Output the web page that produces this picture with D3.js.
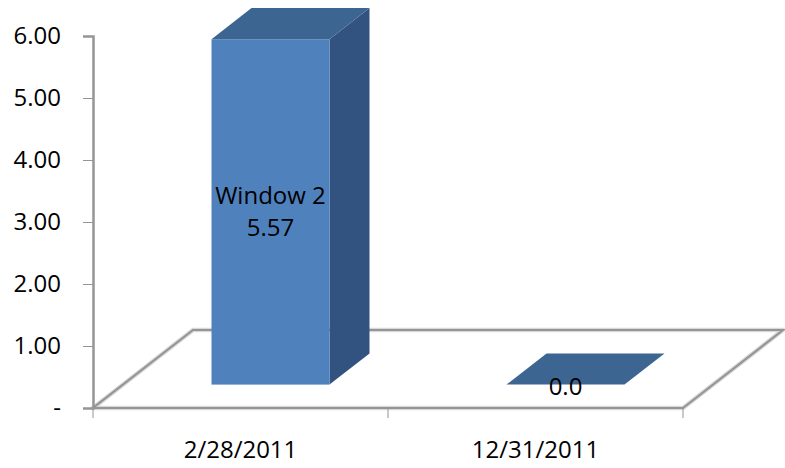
<!DOCTYPE html>
<html>
<head>
<meta charset="utf-8">
<script src="https://cdn.jsdelivr.net/npm/d3@7"></script>
<style>
  body { margin: 0; background: #fff; }
  text { font-family: 'Open Sans', sans-serif; fill: #000; }
</style>
</head>
<body>
<div id="main"></div>
<script>
const w = 785, h = 468
// data
const categories = ['2/28/2011', '12/31/2011']
const values = [5.57, 0]
const labelLines = [['Window 2', '5.57'], ['0.0']]
const yTicks = [0, 1, 2, 3, 4, 5, 6]

const padLeft = 93, padRight = 683, floorY = 408, axisTop = 36
const depthX = 100, depthY = 78   // floor depth in px
const front = 0.3, back = 0.7      // bar position in depth

const svg = d3.select('#main')
    .append('svg')
    .attr('width', w)
    .attr('height', h)

const xScale = d3.scaleBand()
    .domain(categories)
    .range([padLeft, padRight])

const yScale = d3.scaleLinear()
    .domain([0, 6])
    .range([floorY, axisTop])

const barW = xScale.bandwidth() / 2.5

// floor
const floor = [[padLeft, floorY], [padRight, floorY], [padRight + depthX, floorY - depthY], [padLeft + depthX, floorY - depthY]]
svg.append('polygon')
    .attr('points', floor.map(p => p.join(',')).join(' '))
    .attr('fill', '#fff')
    .attr('stroke', '#D9D9D9')
    .attr('stroke-width', 4.5)
    .attr('stroke-linejoin', 'round')
svg.append('polygon')
    .attr('points', floor.map(p => p.join(',')).join(' '))
    .attr('fill', 'none')
    .attr('stroke', '#959595')
    .attr('stroke-width', 2.2)

// y axis
const yAxis = d3.axisLeft(yScale)
    .tickValues(yTicks)
    .tickSize(10)
    .tickFormat(d => d === 0 ? '-' : d.toFixed(2))
const gy = svg.append('g')
    .attr('transform', `translate(${padLeft},0)`)
    .call(yAxis)
gy.select('.domain').attr('stroke', '#959595').attr('stroke-width', 2.5)
gy.selectAll('.tick line').attr('stroke', '#959595')
gy.selectAll('.tick text')
    .attr('x', -32)
    .style('font-size', '24px')
    .style('font-family', "'Open Sans', sans-serif")

// x axis ticks
const xTicks = [padLeft, ...categories.map(c => xScale(c) + xScale.bandwidth())]
svg.selectAll('.xtick')
    .data(xTicks)
    .enter()
    .append('line')
    .attr('x1', d => d).attr('x2', d => d)
    .attr('y1', floorY).attr('y2', floorY + 10)
    .attr('stroke', '#959595')

svg.selectAll('.xlabel')
    .data(categories)
    .enter()
    .append('text')
    .attr('x', d => xScale(d) + xScale.bandwidth() / 2)
    .attr('y', 458)
    .attr('text-anchor', 'middle')
    .style('font-size', '24px')
    .text(d => d)

// bars
const bars = svg.selectAll('.bar')
    .data(categories.map((c, i) => ({ c, v: values[i], lines: labelLines[i] })))
    .enter()
    .append('g')

bars.each(function (d) {
    const g = d3.select(this)
    const x0 = xScale(d.c) + (xScale.bandwidth() - barW) / 2 + front * depthX
    const x1 = x0 + barW
    const yb = yScale(0) - front * depthY
    const yt = yScale(d.v) - front * depthY
    const dx = (back - front) * depthX, dy = (back - front) * depthY
    if (d.v > 0) {
        g.append('polygon')
            .attr('points', [[x1, yb], [x1 + dx, yb - dy], [x1 + dx, yt - dy], [x1, yt]].map(p => p.join(',')).join(' '))
            .attr('fill', '#325380')
        g.append('rect')
            .attr('x', x0).attr('y', yt)
            .attr('width', barW).attr('height', yb - yt)
            .attr('fill', '#4F81BD')
    }
    g.append('polygon')
        .attr('points', [[x0, yt], [x1, yt], [x1 + dx, yt - dy], [x0 + dx, yt - dy]].map(p => p.join(',')).join(' '))
        .attr('fill', '#3C6591')

    const cx = (x0 + x1) / 2
    const cy = d.v > 0 ? (yt + yb) / 2 : yb + 2
    const n = d.lines.length
    d.lines.forEach((t, i) => {
        g.append('text')
            .attr('x', cx)
            .attr('y', cy + (i - (n - 1) / 2) * 32)
            .attr('dy', '0.35em')
            .attr('text-anchor', 'middle')
            .style('font-size', '24px')
            .text(t)
    })
})
</script>
</body>
</html>
